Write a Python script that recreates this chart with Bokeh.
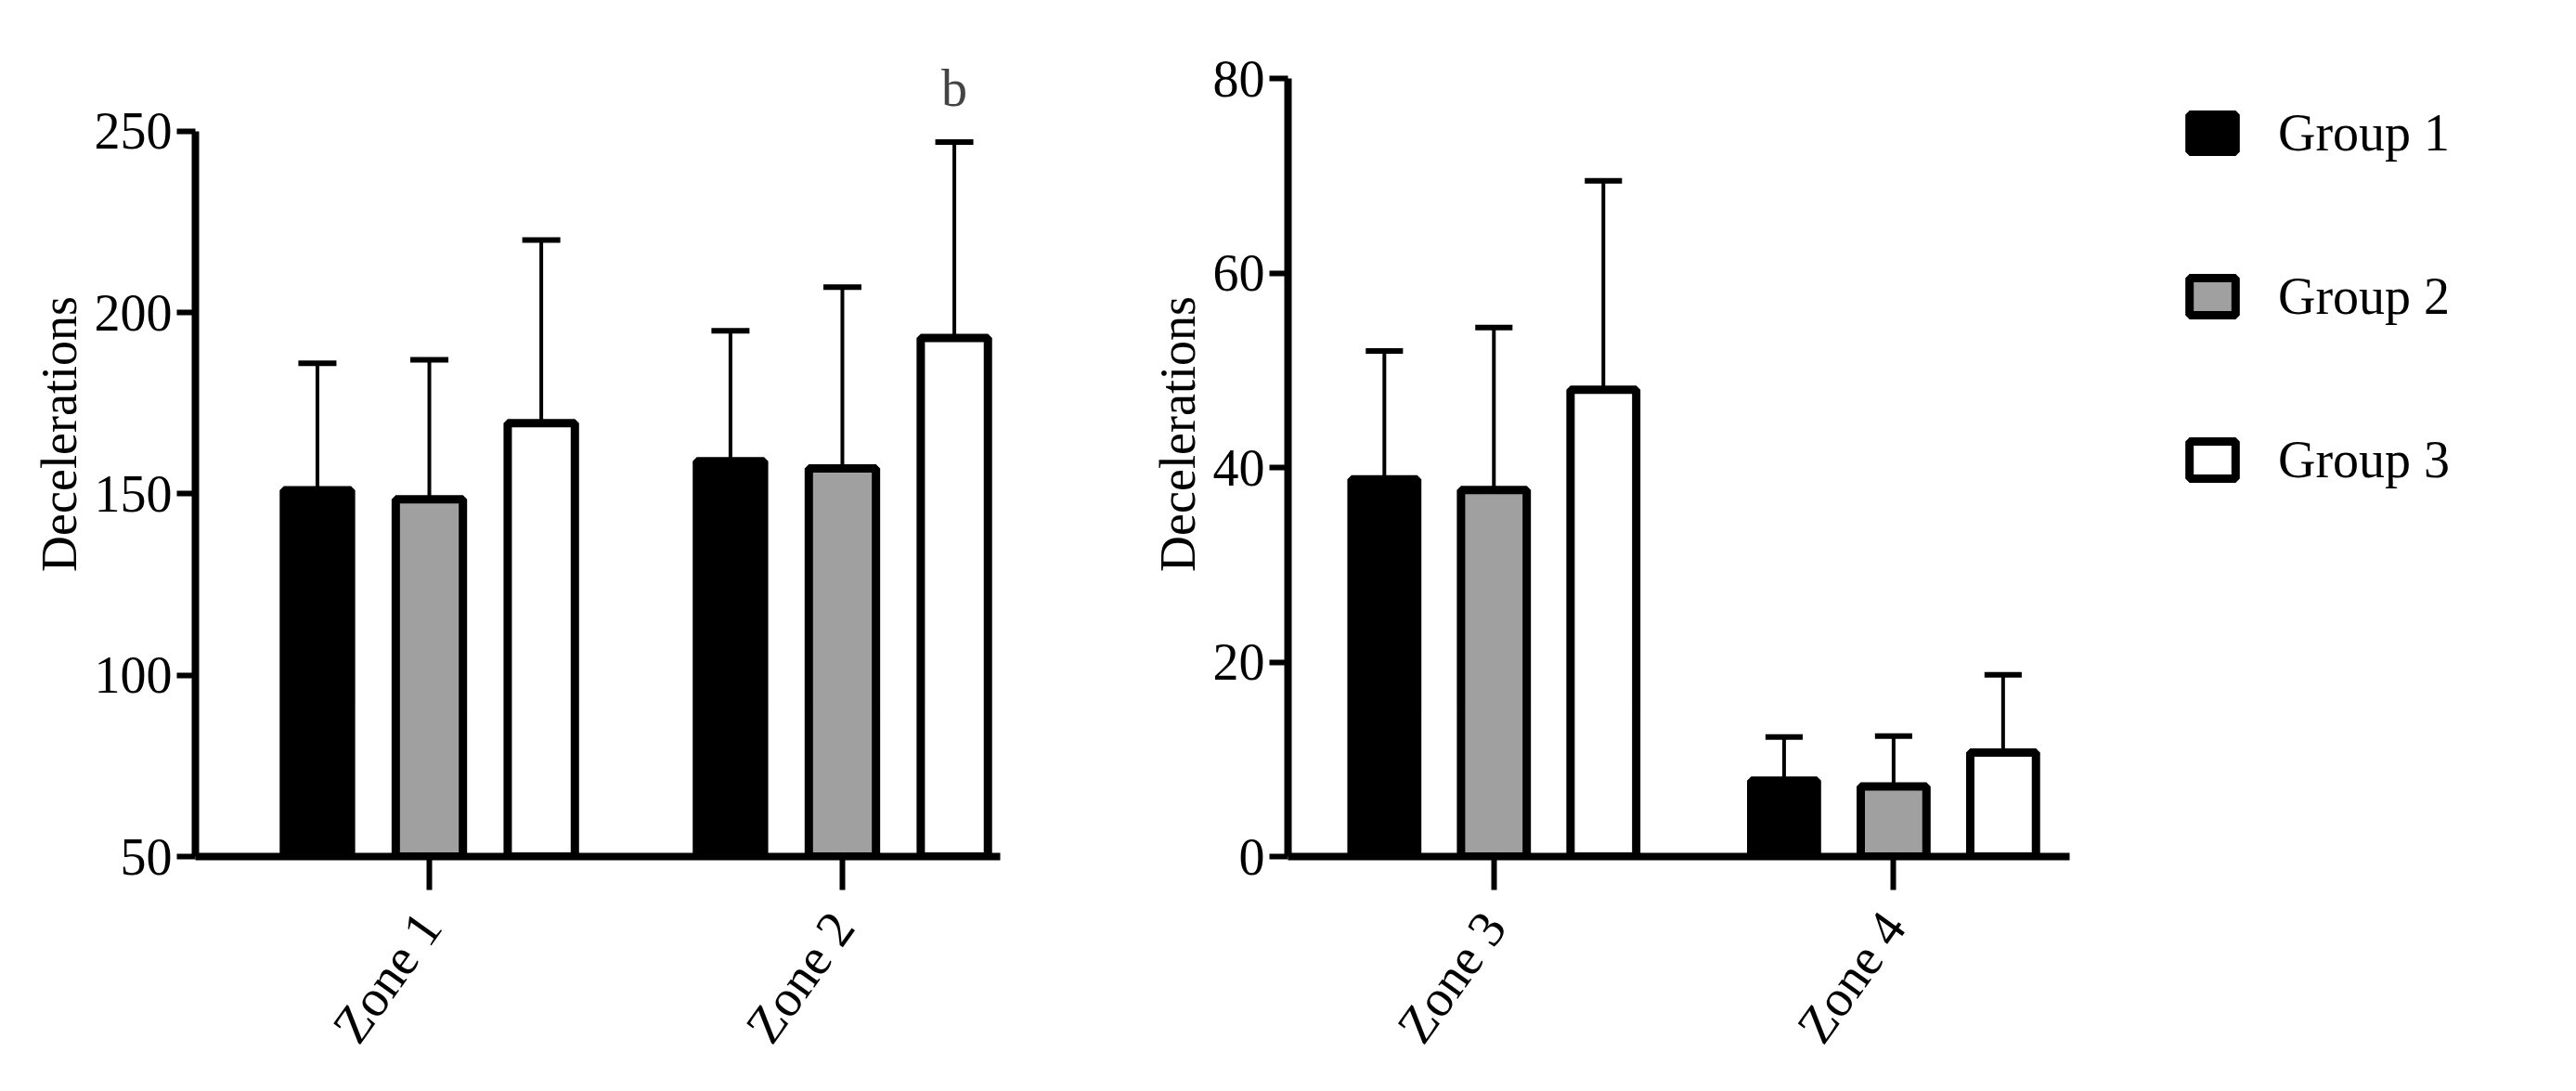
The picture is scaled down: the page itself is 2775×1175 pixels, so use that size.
from bokeh.plotting import figure
from bokeh.layouts import row
from bokeh.models import FixedTicker, Label, Legend, LegendItem, ColumnDataSource
from bokeh.embed import file_html
from bokeh.resources import INLINE

groups = ["Group 1", "Group 2", "Group 3"]
colors = ["#000000", "#a0a0a0", "#ffffff"]

zones_a = ["Zone 1", "Zone 2"]
mean_a = [[151, 148.5, 169.5], [159, 157, 193]]   # per zone, per group
sd_a = [[35, 38.5, 50.5], [36, 50, 54]]

zones_b = ["Zone 3", "Zone 4"]
mean_b = [[38.8, 37.7, 48], [7.8, 7.2, 10.7]]
sd_b = [[13.2, 16.7, 21.5], [4.5, 5.2, 8.0]]

FONT = "Liberation Serif"

def panel(zones, means, sds, centers, xr, yr, xb, yb, yticks, base, width, mleft, mright):
    p = figure(width=width, height=1160, x_range=xr, y_range=yr, output_backend="svg",
               toolbar_location=None, min_border_left=mleft, min_border_right=mright,
               min_border_top=12, min_border_bottom=238)
    p.xgrid.visible = False
    p.ygrid.visible = False
    p.outline_line_color = None
    renderers = []
    for g in range(3):
        xs = [centers[z] + (g - 1) for z in range(len(zones))]
        tops = [means[z][g] for z in range(len(zones))]
        ups = [means[z][g] + sds[z][g] for z in range(len(zones))]
        src = ColumnDataSource(dict(x=xs, top=tops, up=ups,
                                    c0=[x - 0.17 for x in xs], c1=[x + 0.17 for x in xs]))
        p.segment(x0="x", x1="x", y0="top", y1="up", source=src, line_color="black", line_width=4)
        p.segment(x0="c0", x1="c1", y0="up", y1="up", source=src, line_color="black", line_width=6)
        r = p.vbar(x="x", top="top", bottom=base, width=0.6, source=src,
                   fill_color=colors[g], line_color="black", line_width=9)
        renderers.append(r)
    p.xaxis.ticker = FixedTicker(ticks=centers)
    p.xaxis.major_label_overrides = {c: z for c, z in zip(centers, zones)}
    p.xaxis.major_label_orientation = 0.95
    p.xaxis.bounds = xb
    p.yaxis.bounds = yb
    p.yaxis.ticker = FixedTicker(ticks=yticks)
    for ax in (p.xaxis, p.yaxis):
        ax.axis_line_width = 8
        ax.major_tick_line_width = 6
        ax.major_tick_in = 0
        ax.minor_tick_line_color = None
        ax.major_label_text_font = FONT
        ax.major_label_text_font_size = "56px"
        ax.major_label_text_color = "black"
    p.xaxis.major_tick_out = 36
    p.xaxis.major_label_standoff = 30
    p.yaxis.major_tick_out = 20
    p.yaxis.axis_label = "Decelerations"
    p.yaxis.axis_label_text_font = FONT
    p.yaxis.axis_label_text_font_style = "normal"
    p.yaxis.axis_label_text_font_size = "54px"
    p.yaxis.axis_label_text_color = "black"
    return p, renderers

pa, _ = panel(zones_a, mean_a, sd_a, [2.09, 5.78], (0, 7.19), (50, 283.0), (0, 7.19), (50, 250),
              [50, 100, 150, 200, 250], 50, 1220, 210, 143)
pa.add_layout(Label(x=-1.58, y=265.4, text="A", text_font=FONT, text_font_size="50px",
                    text_align="center", text_baseline="middle"))
pa.add_layout(Label(x=6.78, y=261.8, text="b", text_font=FONT, text_font_size="56px",
                    text_align="center", text_baseline="middle"))
pa.renderers[-1].visible = True

pb, rb = panel(zones_b, mean_b, sd_b, [1.88, 5.53], (0, 11.63), (0, 86.9), (0, 7.14), (0, 80),
               [0, 20, 40, 60, 80], 0, 1539, 167, 0)
pb.add_layout(Label(x=-1.38, y=85.4, text="B", text_font=FONT, text_font_size="50px",
                    text_align="center", text_baseline="middle"))
items = [LegendItem(label=groups[g], renderers=[rb[g]]) for g in range(3)]
lg = Legend(items=items, location=(965, 395), glyph_width=62, glyph_height=50,
            label_text_font=FONT, label_text_font_size="56px", label_text_color="black",
            spacing=112, border_line_color=None, background_fill_alpha=0,
            padding=0, margin=0, label_standoff=40)
pb.add_layout(lg)

layout = row(pa, pb, spacing=0)
open("out.html", "w").write(file_html(layout, INLINE))
